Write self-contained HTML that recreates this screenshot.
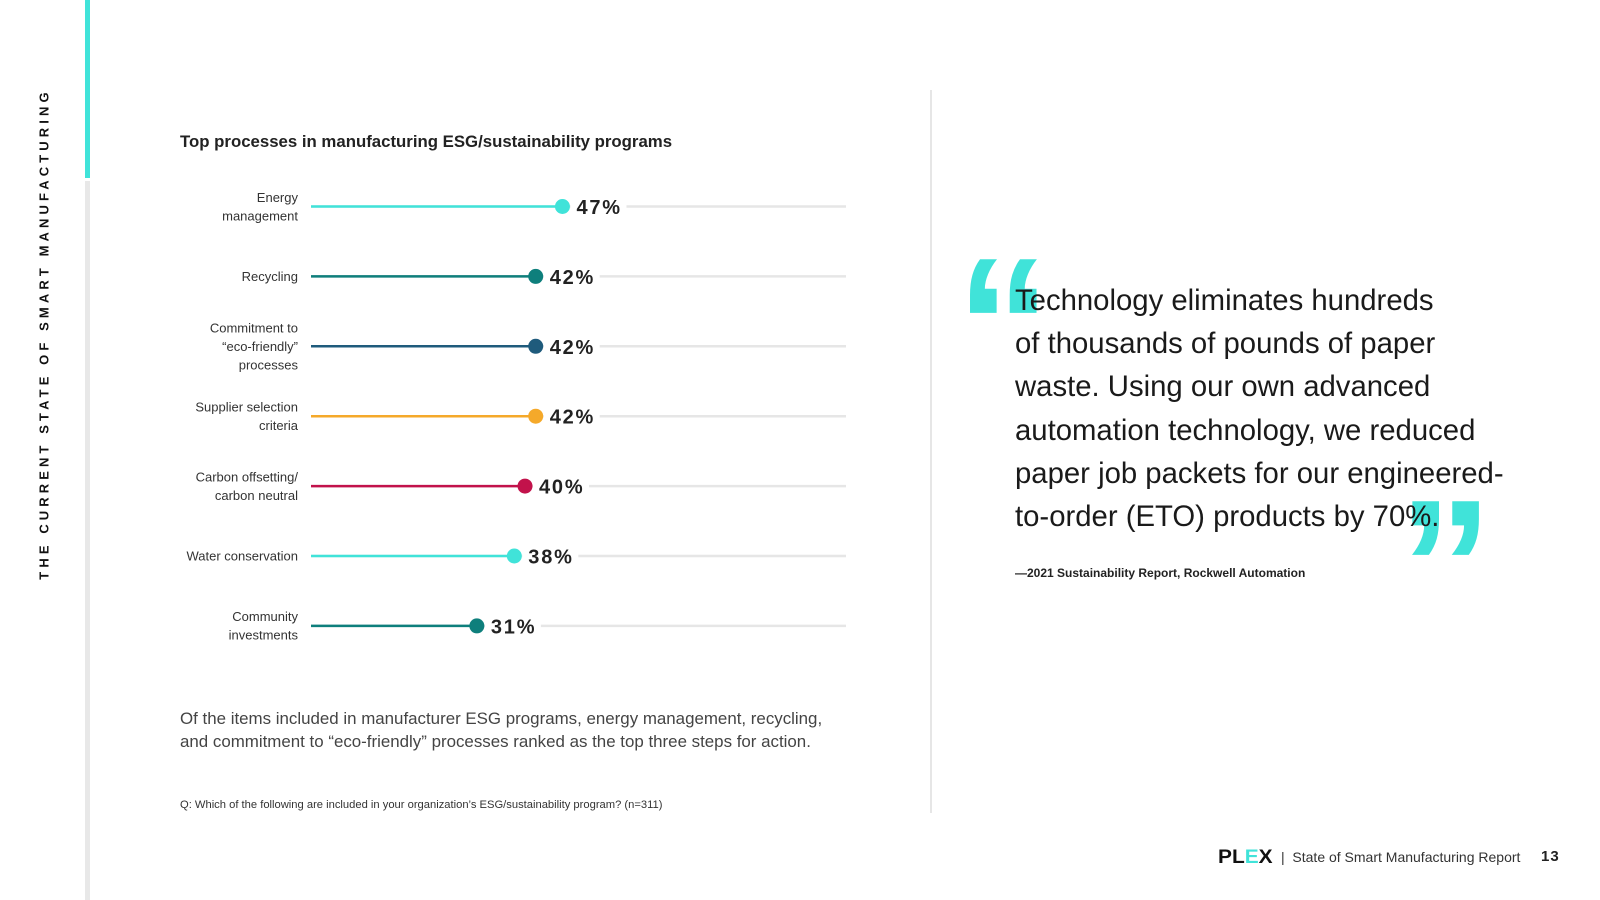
<!DOCTYPE html>
<html><head><meta charset="utf-8"><style>
body{margin:0;width:1600px;height:900px;background:#fff;font-family:"Liberation Sans",sans-serif;position:relative;overflow:hidden;color:#222}
.abs{position:absolute}
</style></head><body>
<div class="abs" style="left:44px;top:334px;transform:translate(-50%,-50%) rotate(-90deg);white-space:nowrap;font-size:13px;font-weight:bold;letter-spacing:4.1px;color:#111">THE CURRENT STATE OF SMART MANUFACTURING</div>
<div class="abs" style="left:85px;top:0;width:5px;height:178px;background:#40e3d9"></div>
<div class="abs" style="left:85px;top:181px;width:5px;height:719px;background:#e8e8e8"></div>
<div class="abs" style="left:180px;top:132px;font-size:16.8px;font-weight:bold;color:#222">Top processes in manufacturing ESG/sustainability programs</div>
<svg class="abs" id="chart" style="left:0;top:0" width="900" height="680"></svg>
<div class="abs" style="left:180px;top:707px;font-size:16.9px;line-height:23px;color:#444">Of the items included in manufacturer ESG programs, energy management, recycling,<br>and commitment to “eco-friendly” processes ranked as the top three steps for action.</div>
<div class="abs" style="left:180px;top:799px;font-size:11.2px;color:#333">Q: Which of the following are included in your organization’s ESG/sustainability program? (n=311)</div>
<div class="abs" style="left:930px;top:90px;width:2px;height:723px;background:#e6e6e6"></div>
<div class="abs" style="left:956px;top:230px;font-size:190px;font-weight:bold;color:#40e3d9;line-height:1;font-family:'Liberation Sans',sans-serif">“</div>
<div class="abs" style="left:1398px;top:472px;font-size:190px;font-weight:bold;color:#40e3d9;line-height:1;font-family:'Liberation Sans',sans-serif">”</div>
<div class="abs" style="left:1015px;top:279px;font-size:29.3px;line-height:43.2px;color:#1a1a1a">Technology eliminates hundreds<br>of thousands of pounds of paper<br>waste. Using our own advanced<br>automation technology, we reduced<br>paper job packets for our engineered-<br>to-order (ETO) products by 70%.</div>
<div class="abs" style="left:1015px;top:566px;font-size:12px;font-weight:bold;color:#222">—2021 Sustainability Report, Rockwell Automation</div>
<div class="abs" style="left:1218px;top:847px;font-size:19px;font-weight:900;letter-spacing:0px;color:#111;transform:scaleX(1.1);transform-origin:left">PL<span style="color:#40e3d9">E</span>X</div>
<div class="abs" style="left:1281px;top:849px;font-size:14px;color:#333">|&nbsp;&nbsp;State of Smart Manufacturing Report</div>
<div class="abs" style="left:1541px;top:848px;font-size:15px;font-weight:bold;color:#222;letter-spacing:1px">13</div>
<script>
const categories=[["Energy","management"],["Recycling"],["Commitment to","“eco-friendly”","processes"],["Supplier selection","criteria"],["Carbon offsetting/","carbon neutral"],["Water conservation"],["Community","investments"]];
const values=[47,42,42,42,40,38,31];
const colors=["#40e3d9","#0e7f7c","#1f5b7c","#f5a92a","#c2124b","#40e3d9","#0e7f7c"];
const NS="http://www.w3.org/2000/svg";
const svg=document.getElementById('chart');
const x0=311,x1=846,y0=206.5,dy=69.9;
const xs=v=>x0+(x1-x0)*v/100;
const ys=i=>y0+i*dy;
function mk(t,a){const e=document.createElementNS(NS,t);for(const k in a)e.setAttribute(k,a[k]);svg.appendChild(e);return e;}
values.forEach((v,i)=>{
  const y=ys(i);
  const tr=mk('line',{x1:x0,x2:x1,y1:y,y2:y,stroke:'#e6e6e6','stroke-width':2.5});
  
  
  const ln=mk('line',{x1:x0,x2:xs(v),y1:y,y2:y,stroke:colors[i],'stroke-width':2.5});
  
  
  const bg=mk('rect',{x:xs(v)+8,y:y-12,width:56,height:24,fill:'#fff'});
  
  
  const c=mk('circle',{cx:xs(v),cy:y,r:7.5,fill:colors[i]});
  
  
  const t=mk('text',{x:xs(v)+14,y:y+7.5,'font-size':20,'font-weight':'bold',fill:'#222','letter-spacing':1.8});
  t.textContent=v+'%';
  
  
  const lines=categories[i],lh=18.5,start=y-(lines.length-1)*lh/2+4.5;
  lines.forEach((s,j)=>{
    const l=mk('text',{x:298,y:start+j*lh,'font-size':13,fill:'#333','text-anchor':'end'});
    l.textContent=s;
    
    
  });
});
</script>
</body></html>
